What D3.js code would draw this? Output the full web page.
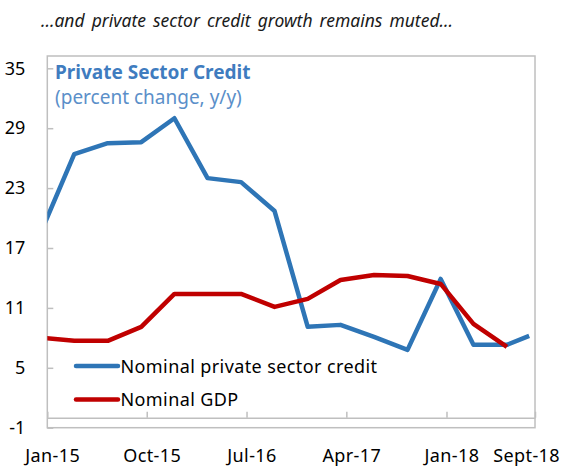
<!DOCTYPE html>
<html>
<head>
<meta charset="utf-8">
<script src="https://cdn.jsdelivr.net/npm/d3@7"></script>
<style>
  body { margin: 0; background: #fff; }
  svg { display: block; }
</style>
</head>
<body>
<script>
// Quarterly observations (plotted mid-month)
const periods = ["2014-12", "2015-03", "2015-06", "2015-09", "2015-12", "2016-03", "2016-06", "2016-09",
                 "2016-12", "2017-03", "2017-06", "2017-09", "2017-12", "2018-03", "2018-06", "2018-08"];
// Nominal private sector credit, percent change y/y
const creditValues = [18.7, 26.4, 27.5, 27.6, 30.0, 24.0, 23.6, 20.7, 9.1, 9.3, 8.1, 6.8, 13.9, 7.3, 7.3, 8.2];
// Nominal GDP, percent change y/y (through Jun-18)
const gdpValues = [8.0, 7.7, 7.7, 9.1, 12.4, 12.4, 12.4, 11.1, 11.9, 13.8, 14.3, 14.2, 13.4, 9.4, 7.1];

const tickMonths = ["2015-01", "2015-10", "2016-07", "2017-04", "2018-01", "2018-09"];
const tickLabels = ["Jan-15", "Oct-15", "Jul-16", "Apr-17", "Jan-18", "Sept-18"];
const yTickValues = [-1, 5, 11, 17, 23, 29, 35];

const seriesNames = ["Nominal private sector credit", "Nominal GDP"];
const seriesColors = ["#2E75B6", "#C00000"];

const W = 567, H = 469;
const FONT = "'Noto Sans', 'Open Sans', sans-serif";
const parseMonth = d3.timeParse("%Y-%m");
const midMonth = s => { const d = parseMonth(s); d.setDate(16); return d; };

const svg = d3.select("body").append("svg").attr("width", W).attr("height", H);

const x = d3.scaleTime()
  .domain([parseMonth("2015-01"), parseMonth("2018-09")])
  .range([47.3, 535]);
const y = d3.scaleLinear().domain([-1, 35]).range([427.7, 68.3]);
const plotTop = 56;

// Heading
svg.append("text")
  .attr("x", 247).attr("y", 27)
  .attr("text-anchor", "middle")
  .attr("font-family", FONT).attr("font-style", "italic")
  .attr("font-size", 17.5).attr("fill", "#1a1a1a")
  .attr("word-spacing", 2.5)
  .text("...and private sector credit growth remains muted...");

// Plot frame
svg.append("rect")
  .attr("x", x.range()[0]).attr("y", plotTop)
  .attr("width", x.range()[1] - x.range()[0])
  .attr("height", y(-1) - plotTop)
  .attr("fill", "none").attr("stroke", "#BFBFBF").attr("stroke-width", 1.5);

// Y axis: inward ticks, labels right-aligned
const yAxis = d3.axisLeft(y).tickValues(yTickValues)
  .tickSizeInner(-6).tickSizeOuter(0).tickPadding(22)
  .tickFormat(d => String(d));
const gy = svg.append("g").attr("transform", `translate(${x.range()[0]},0)`).call(yAxis);
gy.select(".domain").remove();
gy.selectAll(".tick line").attr("stroke", "#BFBFBF").attr("stroke-width", 1.5);
gy.selectAll(".tick text")
  .attr("font-family", FONT).attr("font-size", 18).attr("fill", "#000");

// X axis at zero with upward ticks
const xAxis = d3.axisBottom(x).tickValues(tickMonths.map(parseMonth))
  .tickSizeInner(-6).tickSizeOuter(0).tickFormat("");
const gx = svg.append("g").attr("transform", `translate(0,${y(0)})`).call(xAxis);
gx.select(".domain").attr("stroke", "#BFBFBF").attr("stroke-width", 1.5);
gx.selectAll(".tick line").attr("stroke", "#BFBFBF").attr("stroke-width", 1.5);

// Month labels, centred on the labelled month
const xl = svg.append("g");
tickMonths.forEach((m, i) => {
  const t = xl.append("text")
    .attr("y", 462)
    .attr("text-anchor", "middle")
    .attr("font-family", FONT).attr("font-size", 18).attr("fill", "#000")
    .attr("letter-spacing", 0.4)
    .text(tickLabels[i]);
  const half = t.node().getComputedTextLength() / 2;
  t.attr("x", Math.min(x(midMonth(m)), W - 7 - half));
});

// Inner titles
svg.append("text")
  .attr("x", 55).attr("y", 79)
  .attr("font-family", FONT).attr("font-weight", "bold")
  .attr("font-size", 19).attr("fill", "#3F7CBF")
  .text("Private Sector Credit");
svg.append("text")
  .attr("x", 55).attr("y", 104)
  .attr("font-family", FONT)
  .attr("font-size", 19).attr("fill", "#5B8FC9")
  .text("(percent change, y/y)");

// Series lines, clipped to the plot frame
svg.append("clipPath").attr("id", "plot-clip")
  .append("rect")
  .attr("x", x.range()[0]).attr("y", plotTop)
  .attr("width", x.range()[1] - x.range()[0])
  .attr("height", y(-1) - plotTop);

const line = d3.line().x(d => x(d.date)).y(d => y(d.value));
const series = [creditValues, gdpValues].map(vals =>
  vals.map((v, i) => ({ date: midMonth(periods[i]), value: v })));

const gLines = svg.append("g").attr("clip-path", "url(#plot-clip)");
series.forEach((s, i) => {
  gLines.append("path")
    .datum(s)
    .attr("d", line)
    .attr("fill", "none")
    .attr("stroke", seriesColors[i])
    .attr("stroke-width", 4.5)
    .attr("stroke-linejoin", "round");
});

// Legend
const legendY = [366, 399.5];
seriesNames.forEach((name, i) => {
  svg.append("line")
    .attr("x1", 76).attr("x2", 118)
    .attr("y1", legendY[i]).attr("y2", legendY[i])
    .attr("stroke", seriesColors[i]).attr("stroke-width", 4.5)
    .attr("stroke-linecap", "round");
  svg.append("text")
    .attr("x", 120.5).attr("y", legendY[i] + 6.5)
    .attr("font-family", FONT).attr("font-size", 18).attr("fill", "#000")
    .attr("letter-spacing", 0.4)
    .text(name);
});
</script>
</body>
</html>
